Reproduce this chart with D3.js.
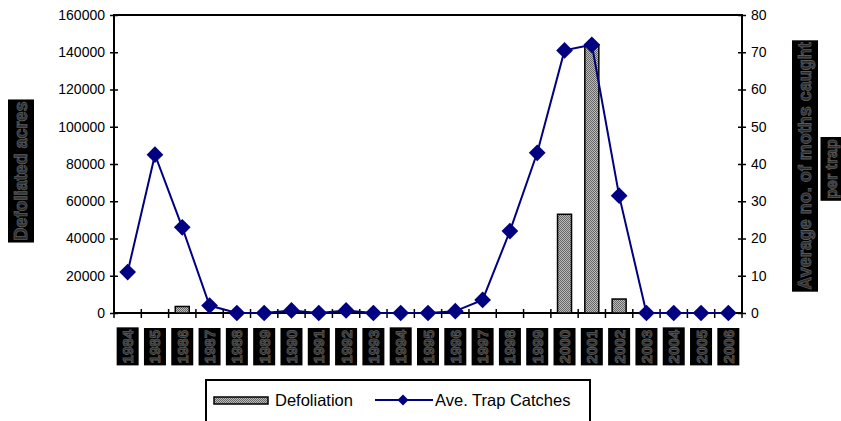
<!DOCTYPE html>
<html><head><meta charset="utf-8">
<script src="https://cdn.jsdelivr.net/npm/d3@7"></script>
<style>body{margin:0;background:#fff;} svg{display:block;font-family:"Liberation Sans",Arial,sans-serif;}</style>
</head><body>
<svg id="c" width="841" height="421"></svg>
<script>
const years = ["1984","1985","1986","1987","1988","1989","1990","1991","1992","1993","1994","1995","1996","1997","1998","1999","2000","2001","2002","2003","2004","2005","2006"];
const defoliation = [0,0,3500,0,0,0,0,0,0,0,0,0,0,0,0,0,53000,144000,7500,0,0,0,0];
const catches = [11,42.5,23,2,0,0,0.7,0,0.7,0,0,0,0.5,3.5,22,43,70.5,72,31.5,0,0,0,0];
const leftTicks = [0,20000,40000,60000,80000,100000,120000,140000,160000];
const rightTicks = [0,10,20,30,40,50,60,70,80];

const svg = d3.select("#c");
const L = 114, R = 742, T = 15, B = 313;

const defs = svg.append("defs");
const pat = defs.append("pattern").attr("id","chk").attr("width",2).attr("height",2).attr("patternUnits","userSpaceOnUse");
pat.append("rect").attr("width",2).attr("height",2).attr("fill","#bbb");
pat.append("rect").attr("width",1).attr("height",1).attr("fill","#666");
pat.append("rect").attr("x",1).attr("y",1).attr("width",1).attr("height",1).attr("fill","#666");

// Title (cut off at top, as in the reference)
svg.append("text").attr("x",430).attr("y",-4).attr("text-anchor","middle")
  .attr("font-weight","bold").attr("font-size",15).text("Gypsy moth defoliation and trap catches");

const x = d3.scaleBand().domain(years).range([L,R]);
const yL = d3.scaleLinear().domain([0,160000]).range([B,T]);
const yR = d3.scaleLinear().domain([0,80]).range([B,T]);

// frame
svg.append("rect").attr("x",L).attr("y",T).attr("width",R-L).attr("height",B-T).attr("fill","none").attr("stroke","#000").attr("stroke-width",2);

// bars
svg.selectAll("rect.bar").data(years.map((y,i)=>({y,v:defoliation[i]})).filter(d=>d.v>0)).enter()
  .append("rect").attr("class","bar")
  .attr("x",d=>x(d.y)+x.bandwidth()/2-7).attr("width",14)
  .attr("y",d=>yL(d.v)).attr("height",d=>B-yL(d.v))
  .attr("fill","url(#chk)").attr("stroke","#000").attr("stroke-width",1.5);

// left axis
const gl = svg.append("g").attr("transform",`translate(${L},0)`)
  .call(d3.axisLeft(yL).tickValues(leftTicks).tickFormat(d3.format("d")).tickSize(4).tickSizeOuter(0));
gl.select(".domain").remove();
gl.selectAll(".tick line").attr("x2",-4).attr("x1",4).attr("stroke","#000").attr("stroke-width",1.5);
gl.selectAll(".tick text").attr("x",-9).attr("font-size",14).attr("font-family","Liberation Sans, Arial").attr("fill","#000");

const gr = svg.append("g").attr("transform",`translate(${R},0)`)
  .call(d3.axisRight(yR).tickValues(rightTicks).tickSize(4).tickSizeOuter(0));
gr.select(".domain").remove();
gr.selectAll(".tick line").attr("x1",-4).attr("x2",4).attr("stroke","#000").attr("stroke-width",1.5);
gr.selectAll(".tick text").attr("x",9).attr("font-size",14).attr("font-family","Liberation Sans, Arial").attr("fill","#000");

// bottom ticks at category boundaries
const bounds = years.map(y=>x(y)).concat([R]);
svg.selectAll("line.bt").data(bounds).enter().append("line")
  .attr("x1",d=>d).attr("x2",d=>d).attr("y1",B-4).attr("y2",B+5).attr("stroke","#000").attr("stroke-width",1.5);

// line
const line = d3.line().x((d,i)=>x(years[i])+x.bandwidth()/2).y(d=>yR(d));
svg.append("path").datum(catches).attr("d",line).attr("fill","none").attr("stroke","#000080").attr("stroke-width",2);
svg.selectAll("path.mk").data(catches).enter().append("path").attr("class","mk")
  .attr("d",d3.symbol().type(d3.symbolSquare).size(140))
  .attr("transform",(d,i)=>`translate(${x(years[i])+x.bandwidth()/2},${yR(d)}) rotate(45)`)
  .attr("fill","#000080");

// boxed rotated labels helper
function boxedLabel(cx, cy, txt, fs, anchor, padW){
  const g = svg.append("g").attr("transform",`translate(${cx},${cy}) rotate(-90)`);
  const t = g.append("text").attr("text-anchor",anchor).attr("dominant-baseline","central")
    .attr("font-size",fs).attr("font-weight","bold").attr("fill","#2a2a2a").attr("stroke","#5a5a5a").attr("stroke-width",0.8).text(txt);
  const bb = t.node().getBBox();
  g.insert("rect","text").attr("x",bb.x-2).attr("y",bb.y-padW).attr("width",bb.width+4).attr("height",bb.height+2*padW).attr("fill","#000");
}
years.forEach(y=>{
  boxedLabel(x(y)+x.bandwidth()/2, 330, y, 15, "end", 2.5);
});
boxedLabel(21, 171, "Defoliated acres", 18, "middle", 3);
boxedLabel(805, 166, "Average no. of moths caught", 18, "middle", 3);
boxedLabel(831, 169, "per trap", 16, "middle", 2);

// legend
const lg = svg.append("g");
lg.append("rect").attr("x",206).attr("y",380).attr("width",384).attr("height",45).attr("fill","#fff").attr("stroke","#000").attr("stroke-width",2);
lg.append("rect").attr("x",214).attr("y",397).attr("width",54).attr("height",7).attr("fill","url(#chk)").attr("stroke","#000").attr("stroke-width",1.5);
lg.append("text").attr("x",275).attr("y",406).attr("font-size",16.5).text("Defoliation");
lg.append("line").attr("x1",375).attr("x2",433).attr("y1",400).attr("y2",400).attr("stroke","#000080").attr("stroke-width",2);
lg.append("path").attr("d",d3.symbol().type(d3.symbolSquare).size(60)).attr("transform","translate(403,400) rotate(45)").attr("fill","#000080");
lg.append("text").attr("x",435).attr("y",406).attr("font-size",16.5).text("Ave. Trap Catches");
</script>
</body></html>
